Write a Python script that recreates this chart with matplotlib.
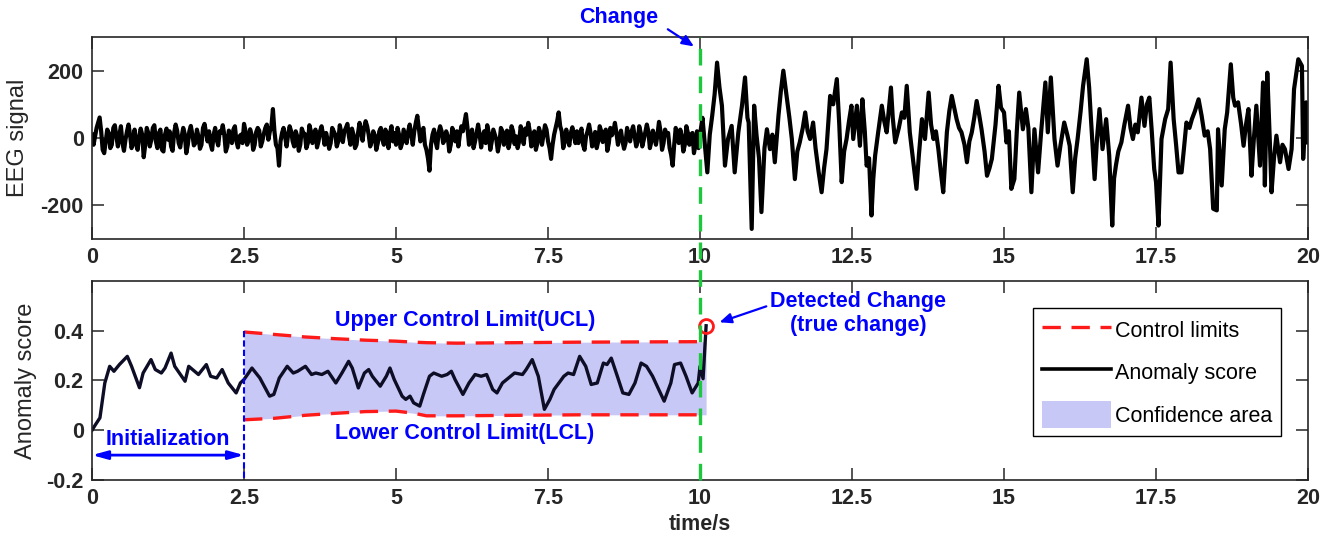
import numpy as np
import matplotlib
matplotlib.use("Agg")
import matplotlib.pyplot as plt
from matplotlib.lines import Line2D
from matplotlib.patches import Patch
import matplotlib.transforms as mtrans

plt.rcParams['font.family'] = ['Liberation Sans', 'DejaVu Sans']
plt.rcParams['axes.unicode_minus'] = False

# EEG before the change, one value every 0.025 s (0 .. 9.975 s), one row per second
eeg_early = [
    10, -20, 5, 30, 45, 61, 20, -35, -45, -10, 25, 15, -30, -20, 30, 38, 5, -25, 10, 35,
    -15, -38, -5, 20, 40, 10, -30, -12, 25, -20, -35, 5, 28, 10, -57, -20, 30, 15, -25, -5,
    30, 38, -10, -30, 15, 25, -35, -40, 10, 28, -5, 20, -25, -38, 15, 40, 22, -15, -28, 5,
    30, 12, -45, -20, 20, 36, 10, -22, -15, 25, 5, -32, -20, 30, 42, 15, -10, 20, -18, -35,
    10, 30, -5, -22, 20, 15, 38, 10, -40, -25, 22, 8, -15, 25, 35, -10, -28, 5, 10, -15,
    42, 20, -20, -8, 26, 10, -35, -20, 18, 30, 22, -25, -10, 12, 30, 40, -5, 20, 35, 86,
    20, -20, -30, -82, -10, 15, 30, 5, -25, 10, 35, 20, -10, -25, 20, 5, -38, -20, 28, 15,
    12, -30, -15, 38, 20, -15, 10, 25, -28, -10, 20, 35, 10, -20, 15, -5, -32, -15, 30, 20,
    10, -25, -10, 38, 15, -12, 20, 30, 42, 5, -20, 28, 10, -30, -20, 15, 45, 20, -8, 30,
    50, 35, 10, -25, -10, 20, 8, -35, -15, 20, 30, -5, -20, 25, 10, -30, 15, 35, -10, 15,
    -20, 30, 10, -30, -15, 25, 5, -15, 20, 40, 10, -20, 20, 45, 66, 30, -10, 15, 30, -20,
    -35, -60, -97, -20, 10, 25, -10, -30, 15, 35, 20, -15, -5, 20, 5, -40, -20, 30, 15, -10,
    20, -25, 10, 35, 20, 45, 71, 30, -20, 5, 25, -30, -10, 15, 40, 10, -28, 5, 20, -15,
    38, 15, -35, -10, 25, 10, -5, -40, -15, 30, 20, -20, 5, 22, -30, -10, 35, 20, -18, 5,
    -30, -10, 35, 15, -18, 28, 10, 45, 20, -25, 5, 20, -35, -15, 30, 15, -20, 10, 38, 25,
    -10, -30, -62, -20, 10, 30, 50, 76, 35, 20, -30, -10, 25, -5, -22, 15, 32, 10, -15, 20,
    -15, 10, 28, -20, -35, 5, 20, 40, 15, -25, -5, 18, -30, -10, 35, 20, -12, 10, 25, -38,
    -15, 30, 8, 20, 45, 15, -20, 5, 22, -10, -32, -15, 30, 10, -10, 20, 35, 5, -25, -10,
    35, 15, -25, -5, 18, 40, 20, -30, -10, 22, 5, -20, 10, 48, 20, -35, -15, 25, 10, 15,
    -30, -50, -82, -20, 30, 10, -15, 25, 5, -40, -20, 35, 15, -20, 10, 15, -45, -20, 20, -30,
]

# EEG after the change, (time, value) pairs
eeg_late = [
    (10.00, 10), (10.04, 60), (10.08, -20), (10.12, -102), (10.16, 10), (10.20, 66),
    (10.24, 130), (10.28, 224), (10.32, 150), (10.36, 96), (10.41, -82), (10.46, -3),
    (10.52, 36), (10.57, -102), (10.63, 17), (10.69, 96), (10.74, 180), (10.78, 60),
    (10.80, 46), (10.85, -270), (10.89, 96), (10.93, 7), (10.97, -60), (11.01, -220),
    (11.06, -30), (11.10, 26), (11.15, -33), (11.19, 10), (11.23, -72), (11.29, 66),
    (11.33, 140), (11.37, 200), (11.43, 115), (11.47, 60), (11.51, -3), (11.56, -122),
    (11.60, -40), (11.64, -13), (11.69, 30), (11.73, 76), (11.77, 20), (11.81, -3),
    (11.86, 46), (11.90, -30), (11.95, -100), (12.00, -161), (12.04, -90), (12.08, -33),
    (12.14, 125), (12.19, 100), (12.25, 175), (12.29, 40), (12.33, -131), (12.37, -40),
    (12.41, -3), (12.45, 50), (12.49, 96), (12.52, -3), (12.58, 96), (12.63, -23),
    (12.67, 115), (12.71, 20), (12.74, -82), (12.78, -60), (12.82, -230), (12.85, -120),
    (12.88, -52), (12.93, 17), (12.99, 96), (13.03, 50), (13.07, 17), (13.14, 150),
    (13.17, 60), (13.21, -13), (13.27, 30), (13.32, 76), (13.36, 60), (13.40, 155),
    (13.45, 17), (13.50, -60), (13.56, -151), (13.60, -50), (13.65, 56), (13.70, -3),
    (13.76, 135), (13.80, 40), (13.84, -3), (13.88, 20), (13.92, -33), (13.96, -100),
    (14.00, -161), (14.06, 17), (14.10, 80), (14.14, 125), (14.18, 90), (14.22, 56),
    (14.26, 30), (14.30, 17), (14.35, -20), (14.39, -72), (14.43, -10), (14.47, 17),
    (14.51, 60), (14.55, 110), (14.59, 70), (14.63, 26), (14.68, -40), (14.72, -112),
    (14.76, -90), (14.80, -62), (14.86, 40), (14.91, 155), (14.95, 90), (15.00, 76),
    (15.04, -13), (15.08, 20), (15.12, -151), (15.17, -122), (15.21, 20), (15.25, 135),
    (15.31, 26), (15.36, 86), (15.40, 30), (15.45, -161), (15.50, 26), (15.56, -102),
    (15.61, 17), (15.68, 165), (15.72, 17), (15.77, 180), (15.83, -3), (15.88, -82),
    (15.93, -20), (15.99, 46), (16.04, 10), (16.08, -23), (16.13, -161), (16.17, -60),
    (16.21, -3), (16.26, 80), (16.30, 155), (16.36, 234), (16.40, 150), (16.43, 56),
    (16.49, -122), (16.53, 0), (16.57, 86), (16.62, -33), (16.68, 56), (16.73, -52),
    (16.78, -260), (16.81, -120), (16.84, -82), (16.88, -40), (16.93, -13), (16.98, 40),
    (17.04, 96), (17.08, 30), (17.12, -3), (17.16, 40), (17.20, 17), (17.26, 120),
    (17.31, 36), (17.35, 100), (17.39, 120), (17.43, 20), (17.47, -92), (17.50, -131),
    (17.54, -260), (17.59, -3), (17.65, 56), (17.70, 86), (17.74, 224), (17.79, 56),
    (17.83, -20), (17.87, -102), (17.92, -102), (17.96, -30), (18.00, 46), (18.05, 30),
    (18.09, 56), (18.14, 80), (18.20, 115), (18.25, 66), (18.30, 7), (18.35, 20),
    (18.39, -33), (18.44, -210), (18.50, -215), (18.52, 26), (18.58, -141), (18.63, 26),
    (18.67, 76), (18.73, 219), (18.77, 120), (18.80, 96), (18.85, 106), (18.90, 40),
    (18.94, -23), (18.98, 40), (19.02, 86), (19.07, -112), (19.11, 0), (19.15, 96),
    (19.21, -82), (19.26, 165), (19.29, -141), (19.33, 194), (19.37, 0), (19.40, -161),
    (19.44, -60), (19.48, 7), (19.54, -72), (19.58, -20), (19.62, -33), (19.68, -92),
    (19.73, -33), (19.77, 145), (19.84, 234), (19.90, 214), (19.92, -62), (19.97, 106),
    (20.00, -13),
]

# anomaly score (time, value)
anomaly = [
    (0.00, 0.00), (0.05, 0.02), (0.13, 0.05), (0.21, 0.19), (0.29, 0.257), (0.36, 0.237),
    (0.45, 0.264), (0.58, 0.297), (0.65, 0.257), (0.78, 0.171), (0.84, 0.23), (0.97, 0.284),
    (1.04, 0.244), (1.14, 0.23), (1.20, 0.25), (1.30, 0.31), (1.36, 0.257), (1.53, 0.197),
    (1.59, 0.257), (1.75, 0.224), (1.88, 0.264), (1.95, 0.217), (2.05, 0.21), (2.14, 0.244),
    (2.24, 0.19), (2.37, 0.15), (2.44, 0.19), (2.50, 0.204), (2.63, 0.25), (2.76, 0.21),
    (2.92, 0.137), (2.99, 0.144), (3.08, 0.21), (3.21, 0.257), (3.31, 0.23), (3.38, 0.237),
    (3.51, 0.257), (3.61, 0.224), (3.68, 0.23), (3.78, 0.224), (3.88, 0.237), (4.01, 0.19),
    (4.11, 0.23), (4.22, 0.277), (4.28, 0.25), (4.38, 0.17), (4.48, 0.23), (4.55, 0.244),
    (4.61, 0.217), (4.74, 0.177), (4.84, 0.217), (4.90, 0.25), (4.97, 0.204), (5.10, 0.137),
    (5.16, 0.124), (5.23, 0.137), (5.29, 0.11), (5.39, 0.097), (5.45, 0.144), (5.55, 0.217),
    (5.62, 0.23), (5.75, 0.217), (5.84, 0.224), (5.91, 0.237), (5.97, 0.204), (6.10, 0.144),
    (6.20, 0.19), (6.30, 0.224), (6.40, 0.217), (6.49, 0.224), (6.59, 0.164), (6.66, 0.15),
    (6.75, 0.19), (6.85, 0.21), (6.95, 0.23), (7.08, 0.224), (7.14, 0.244), (7.24, 0.284),
    (7.34, 0.217), (7.44, 0.084), (7.53, 0.124), (7.60, 0.164), (7.70, 0.197), (7.76, 0.217),
    (7.83, 0.23), (7.92, 0.224), (8.02, 0.297), (8.12, 0.257), (8.21, 0.184), (8.31, 0.19),
    (8.41, 0.27), (8.47, 0.264), (8.54, 0.29), (8.64, 0.217), (8.73, 0.15), (8.83, 0.144),
    (8.93, 0.19), (9.03, 0.27), (9.12, 0.257), (9.22, 0.217), (9.32, 0.164), (9.41, 0.117),
    (9.52, 0.19), (9.58, 0.264), (9.68, 0.27), (9.77, 0.217), (9.87, 0.15), (9.97, 0.19),
    (10.00, 0.257), (10.05, 0.207), (10.10, 0.42),
]

# control limits (time, UCL, LCL)
limit_t = [2.5, 3.0, 3.5, 4.0, 4.5, 5.0, 5.3, 5.5, 6.0, 7.0, 8.0, 9.0, 10.0, 10.1]
ucl = [0.395, 0.385, 0.375, 0.368, 0.362, 0.358, 0.354, 0.352, 0.350, 0.352, 0.354, 0.355, 0.356, 0.356]
lcl = [0.042, 0.048, 0.060, 0.068, 0.075, 0.077, 0.068, 0.058, 0.058, 0.060, 0.062, 0.062, 0.062, 0.062]

change_t = 10.0
init_end = 2.5
detected = (10.1, 0.42)

xticks = [0, 2.5, 5, 7.5, 10, 12.5, 15, 17.5, 20]
xlabels = ['0', '2.5', '5', '7.5', '10', '12.5', '15', '17.5', '20']

FS = 15.5
BLUE = '#0000ff'
AXC = '#262626'
RED = '#ff1a1a'


def style_axes(ax):
    for s in ax.spines.values():
        s.set_color(AXC)
        s.set_linewidth(1.2)
    ax.tick_params(direction='in', length=8.5, width=1.1, color=AXC, top=True, right=True,
                   labelsize=FS, labelcolor=AXC, pad=6)
    ax.set_xlim(0, 20)
    ax.set_xticks(xticks)
    ax.set_xticklabels(xlabels, fontweight='bold')


def main():
    fig = plt.figure(figsize=(13.32, 5.42), dpi=100)
    ax1 = fig.add_axes([0.0691, 0.5590, 0.9129, 0.3727])
    ax2 = fig.add_axes([0.0691, 0.1144, 0.9129, 0.3672])

    # EEG signal
    t_early = np.arange(len(eeg_early)) * 0.025
    t_late = [p[0] for p in eeg_late]
    v_late = [p[1] for p in eeg_late]
    t_eeg = np.concatenate([t_early, t_late])
    v_eeg = np.concatenate([eeg_early, v_late])
    ax1.plot(t_eeg, v_eeg, color='black', lw=3.0, solid_joinstyle='round')
    ax1.set_ylim(-300, 300)
    ax1.set_yticks([-200, 0, 200])
    ax1.set_yticklabels(['-200', '0', '200'], fontweight='bold')
    style_axes(ax1)
    ax1.set_ylabel('EEG signal', fontsize=17, color=AXC)
    ax1.yaxis.set_label_coords(-0.052, 0.5)

    ax1.text(8.67, 358, 'Change', color=BLUE, fontsize=FS, fontweight='bold',
             ha='center', va='center', clip_on=False)
    ax1.annotate('', xy=(9.9, 272), xytext=(9.47, 323), annotation_clip=False,
                 arrowprops=dict(arrowstyle='-|>,head_length=0.7,head_width=0.3',
                                 color=BLUE, lw=1.6, shrinkA=0, shrinkB=0))

    # anomaly score panel
    ax2.fill_between(limit_t, lcl, ucl, color='#c8c8f6', lw=0)
    ax2.plot(limit_t[:-1], ucl[:-1], color=RED, lw=2.4, dashes=(5.5, 3.2))
    ax2.plot(limit_t[:-1], lcl[:-1], color=RED, lw=2.4, dashes=(5.5, 3.2))
    at = [p[0] for p in anomaly]
    av = [p[1] for p in anomaly]
    ax2.plot(at, av, color='#0d0d26', lw=2.4, solid_joinstyle='round')
    ax2.plot(*detected, 'o', ms=10, mfc='none', mec=RED, mew=2)

    ax2.plot([init_end, init_end], [0.4, -0.2], color=BLUE, lw=1.5, dashes=(3, 1.5))
    ax2.annotate('', xy=(0, -0.1), xytext=(init_end, -0.1),
                 arrowprops=dict(arrowstyle='<|-|>,head_length=0.9,head_width=0.25',
                                 color=BLUE, lw=2, shrinkA=0, shrinkB=0))
    ax2.text(1.25, -0.06, 'Initialization', color=BLUE, fontsize=FS, fontweight='bold',
             ha='center', va='baseline')
    ax2.text(6.13, 0.42, 'Upper Control Limit(UCL)', color=BLUE, fontsize=FS,
             fontweight='bold', ha='center', va='baseline')
    ax2.text(6.13, -0.036, 'Lower Control Limit(LCL)', color=BLUE, fontsize=FS,
             fontweight='bold', ha='center', va='baseline')
    ax2.text(12.6, 0.47, 'Detected Change\n(true change)', color=BLUE, fontsize=FS,
             fontweight='bold', ha='center', va='center', linespacing=1.15)
    ax2.annotate('', xy=(10.32, 0.434), xytext=(11.09, 0.498),
                 arrowprops=dict(arrowstyle='-|>,head_length=0.7,head_width=0.3',
                                 color=BLUE, lw=1.6, shrinkA=0, shrinkB=0))

    ax2.set_ylim(-0.2, 0.6)
    ax2.set_yticks([-0.2, 0, 0.2, 0.4])
    ax2.set_yticklabels(['-0.2', '0', '0.2', '0.4'], fontweight='bold')
    style_axes(ax2)
    ax2.set_ylabel('Anomaly score', fontsize=17, color=AXC)
    ax2.yaxis.set_label_coords(-0.045, 0.5)
    ax2.set_xlabel('time/s', fontsize=FS, fontweight='bold', color=AXC)
    ax2.xaxis.set_label_coords(0.5, -0.17)

    handles = [Line2D([], [], color=RED, lw=2.4, dashes=(5.5, 3.2)),
               Line2D([], [], color='black', lw=2.6),
               Patch(facecolor='#c8c8f6', edgecolor='none')]
    leg = ax2.legend(handles, ['Control limits', 'Anomaly score', 'Confidence area'],
                     loc='upper left', bbox_to_anchor=(0.774, 0.864), borderaxespad=0,
                     fontsize=FS, handlelength=3.2, handleheight=1.5, handletextpad=0.2,
                     labelspacing=0.75, borderpad=0.4, fancybox=False, framealpha=1,
                     edgecolor='black')
    leg.get_frame().set_linewidth(1.0)

    # change line running through both panels
    trans = mtrans.blended_transform_factory(ax2.transData, fig.transFigure)
    fig.add_artist(Line2D([change_t, change_t], [0.1144, 0.9317], transform=trans,
                          color='#1ec83c', lw=2.4, dashes=(5, 3.3)))

    fig.savefig('out.png', dpi=100)


if __name__ == "__main__":
    main()
